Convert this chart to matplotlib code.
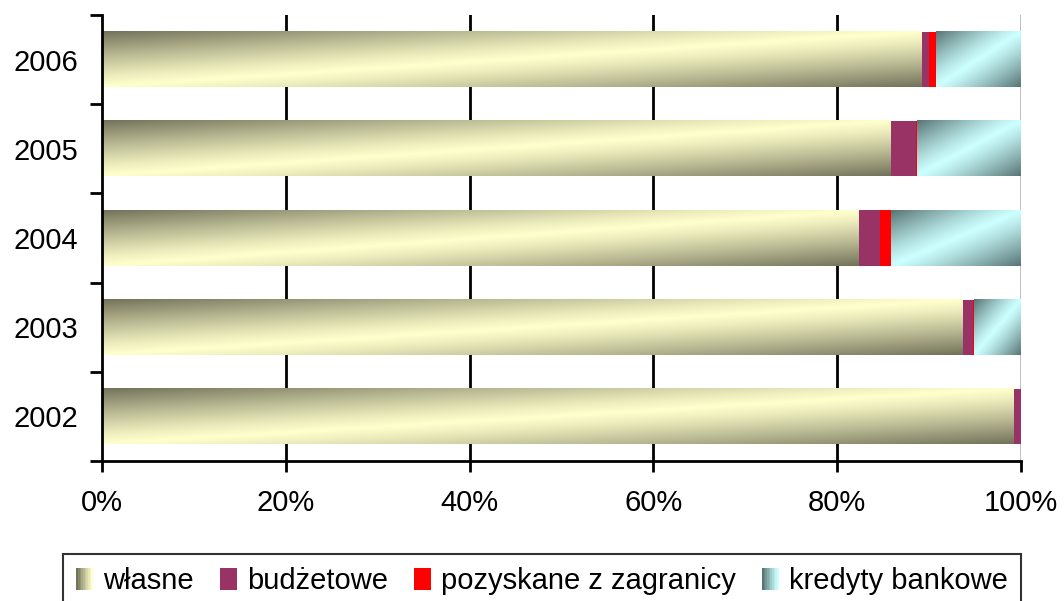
import numpy as np
import matplotlib
matplotlib.use("Agg")
import matplotlib.pyplot as plt
from matplotlib.patches import Rectangle
from matplotlib.legend_handler import HandlerBase
from matplotlib.colors import to_rgb

plt.rcParams['font.family'] = ['Liberation Sans', 'DejaVu Sans']

years = ['2002', '2003', '2004', '2005', '2006']
wlasne = [99.2, 93.7, 82.4, 85.9, 89.2]
budzetowe = [0.8, 1.1, 2.3, 2.7, 0.8]
zagranica = [0.0, 0.1, 1.2, 0.1, 0.8]
kredyty = [0.0, 5.1, 14.1, 11.3, 9.2]
series_names = ['własne', 'budżetowe', 'pozyskane z zagranicy', 'kredyty bankowe']
xtick_vals = [0, 20, 40, 60, 80, 100]

# style: (light, dark) for gradients, or flat colour
styles = [
    ('grad', '#FFFFCC', '#72725A'),
    ('flat', '#993366', None),
    ('flat', '#FF0000', None),
    ('grad', '#CCFFFF', '#587474'),
]


def gradient_img(light, dark, nx=300, ny=60):
    l = np.array(to_rgb(light))
    d = np.array(to_rgb(dark))
    xs = np.linspace(0, 1, nx)
    ys = np.linspace(1, 0, ny)  # row 0 = top
    X, Y = np.meshgrid(xs, ys)
    u = np.abs(X - Y)
    t = np.clip(u, 0, 1) ** 1.2
    return l[None, None, :] * (1 - t[..., None]) + d[None, None, :] * t[..., None]


fig = plt.figure(figsize=(10.64, 6.01), dpi=100)
ax = fig.add_axes([102 / 1064, 1 - 461 / 601, (1021 - 102) / 1064, (461 - 15) / 601])

y = np.arange(len(years))
data = [wlasne, budzetowe, zagranica, kredyty]
left = np.zeros(len(years))
for vals, st in zip(data, styles):
    vals = np.array(vals)
    kind, c1, c2 = st
    bars = ax.barh(y, vals, left=left, height=0.62,
                   color=c1 if kind == 'flat' else 'none',
                   edgecolor='none', zorder=3)
    if kind == 'grad':
        img = gradient_img(c1, c2)
        for p in bars.patches:
            if p.get_width() <= 0:
                continue
            x0, y0 = p.get_x(), p.get_y()
            ax.imshow(img, extent=(x0, x0 + p.get_width(), y0, y0 + p.get_height()),
                      origin='upper', aspect='auto', zorder=3, interpolation='bilinear')
    left = left + vals

ax.set_xlim(0, 100)
ax.set_ylim(-0.5, len(years) - 0.5)

# gridlines
for xv in xtick_vals[1:]:
    ax.axvline(xv, color='black' if xv < 100 else '#BBBBBB', lw=2, zorder=1)

ax.set_xticks(xtick_vals)
ax.set_xticklabels([f'{v}%' for v in xtick_vals], fontsize=21)
ax.set_yticks(y)
ax.set_yticklabels(years, fontsize=21)
ax.set_yticks(np.arange(-0.5, len(years)), minor=True)
ax.tick_params(axis='y', which='major', length=0, pad=17)
ax.tick_params(axis='y', which='minor', length=9, width=2, direction='out')
ax.tick_params(axis='x', which='major', length=8, width=2, direction='out', pad=12)
for s in ['top', 'right']:
    ax.spines[s].set_visible(False)
for s in ['left', 'bottom']:
    ax.spines[s].set_linewidth(2)
    ax.spines[s].set_zorder(5)


class GradHandler(HandlerBase):
    def __init__(self, light, dark):
        super().__init__()
        self.light = np.array(to_rgb(light))
        self.dark = np.array(to_rgb(dark))

    def create_artists(self, legend, orig_handle, xdescent, ydescent, width, height, fontsize, trans):
        arts = []
        n = 10
        for i in range(n):
            t = (1 - i / (n - 1)) ** 1.2
            c = self.light * (1 - t) + self.dark * t
            r = Rectangle((-xdescent + i * width / n, -ydescent), width / n + 0.3, height,
                          facecolor=c, edgecolor='none', transform=trans)
            arts.append(r)
        return arts


handles = [Rectangle((0, 0), 1, 1, facecolor=st[1], edgecolor='none') for st in styles]
handler_map = {
    handles[0]: GradHandler(styles[0][1], styles[0][2]),
    handles[3]: GradHandler(styles[3][1], styles[3][2]),
}
leg = fig.legend(handles, series_names, loc='upper left', ncol=4,
                 bbox_to_anchor=(63 / 1064, 1 - 554 / 601), borderaxespad=0,
                 fontsize=21, frameon=True, fancybox=False, edgecolor='black',
                 handlelength=0.58, handleheight=0.75, handletextpad=0.34,
                 columnspacing=0.9, borderpad=0.45, handler_map=handler_map)
leg.get_frame().set_linewidth(1.5)

fig.savefig('out.png', dpi=100)
